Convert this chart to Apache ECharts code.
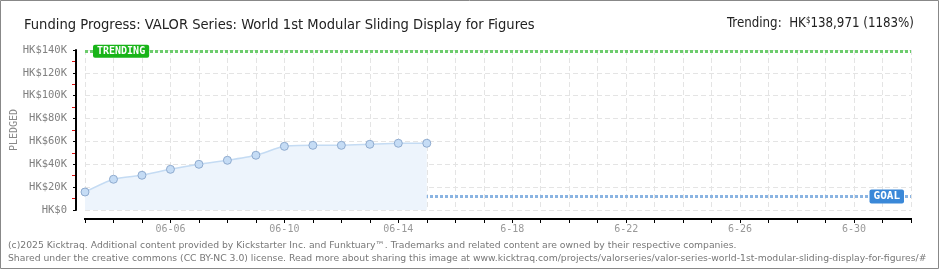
<!DOCTYPE html>
<html><head><meta charset="utf-8">
<script src="https://cdn.jsdelivr.net/npm/echarts@6/dist/echarts.min.js"></script>
<style>html,body{margin:0;padding:0;background:#fff}#c{width:940px;height:270px}</style>
</head><body><div id="c"></div><script>
const dates = ['06-03','06-04','06-05','06-06','06-07','06-08','06-09','06-10','06-11','06-12','06-13','06-14','06-15','06-16','06-17','06-18','06-19','06-20','06-21','06-22','06-23','06-24','06-25','06-26','06-27','06-28','06-29','06-30','07-01','07-02'];
const pledged = [15750, 26900, 30400, 35600, 40000, 43500, 47900, 55700, 56600, 56600, 57500, 58400, 58400];
const xTickDates = ['06-06','06-10','06-14','06-18','06-22','06-26','06-30'];
const xTickLabels = ['06-06','06-10','06-14','6-18','6-22','6-26','6-30'];
const yTickLabels = ['HK$0','HK$20K','HK$40K','HK$60K','HK$80K','HK$100K','HK$120K','HK$140K'];
const trending = 138971;
const goal = 11750;
const titleText = 'Funding Progress: VALOR Series: World 1st Modular Sliding Display for Figures';
const footer1 = '(c)2025 Kicktraq. Additional content provided by Kickstarter Inc. and Funktuary\u2122. Trademarks and related content are owned by their respective companies.';
const footer2 = 'Shared under the creative commons (CC BY-NC 3.0) license. Read more about sharing this image at www.kicktraq.com/projects/valorseries/valor-series-world-1st-modular-sliding-display-for-figures/#';

const chart = echarts.init(document.getElementById('c'), null, {renderer:'canvas'});
const mono = 'DejaVu Sans Mono';
const cond = "'DejaVu Sans Condensed', 'Liberation Sans Narrow', Roboto, sans-serif";
const gridDash = {color:'#e4e4e4', width:1, type:[5,3]};
const axisCol = '#000';
const xFmt = v => { const k = xTickDates.indexOf(v); return k >= 0 ? xTickLabels[k] : ''; };

chart.setOption({
  animation:false,
  backgroundColor:'#fff',
  title:[
    {text:titleText, left:19, top:13, textStyle:{fontFamily:cond, fontSize:14.6, fontWeight:'normal', color:'#222'}},
    {text:'Trending:  HK{s|$}138,971 (1183%)', right:21, top:12, textStyle:{fontFamily:cond, fontSize:13.2, fontWeight:'normal', color:'#222',
      rich:{s:{fontSize:8, verticalAlign:'top', lineHeight:10, fontFamily:cond, color:'#222'}}}}
  ],
  grid:{left:85, right:29, top:50, bottom:60, containLabel:false, outerBoundsMode:'none'},
  xAxis:[
    {type:'category', data:dates, boundaryGap:false, offset:9, position:'bottom',
     axisLine:{show:true, onZero:false, lineStyle:{color:axisCol, width:2}},
     axisTick:{show:true, length:4, interval:0, lineStyle:{color:axisCol, width:1}},
     axisLabel:{interval:0, formatter:xFmt, margin:5, fontFamily:mono, fontSize:10, color:'#999'},
     splitLine:{show:true, interval:0, lineStyle:gridDash}}
  ],
  yAxis:[
    {type:'value', min:0, max:140000, interval:20000, offset:9, position:'left',
     name:'PLEDGED', nameLocation:'middle', nameGap:57, nameRotate:90, nameMoveOverlap:false,
     nameTextStyle:{fontFamily:mono, fontSize:10, color:'#888'},
     axisLine:{show:true, onZero:false, lineStyle:{color:axisCol, width:2}},
     axisTick:{show:true, length:3, lineStyle:{color:axisCol, width:1}},
     minorTick:{show:true, splitNumber:2, length:4, lineStyle:{color:'#e01010', width:1}},
     axisLabel:{formatter:(v,i)=>yTickLabels[i], margin:9, fontFamily:mono, fontSize:10.5, color:'#808080'},
     splitLine:{show:true, lineStyle:gridDash}}
  ],
  series:[
    {type:'line', data:pledged, smooth:0.2,
     symbol:'circle', symbolSize:8, z:5,
     lineStyle:{color:'#c4dbf3', width:1.5},
     itemStyle:{color:'#c5dcf5', borderColor:'#8fabcf', borderWidth:1},
     areaStyle:{color:'#edf4fc', opacity:1},
     markLine:{silent:true, symbol:['none','none'], animation:false,
       data:[
         {yAxis:trending, lineStyle:{color:'#6ccc6c', width:3, type:[3,2]},
          label:{show:true, position:'insideStart', distance:8, formatter:'TRENDING', backgroundColor:'#18b418', color:'#fff',
                 padding:[2,4,1,4], borderRadius:2, fontFamily:mono, fontWeight:'bold', fontSize:10}},
         {yAxis:goal, lineStyle:{color:'#8ab4e2', width:3, type:[3,2]},
          label:{show:true, position:'insideEnd', distance:7, formatter:'GOAL', backgroundColor:'#3a88d8', color:'#fff',
                 padding:[2,4,1,4], borderRadius:2, fontFamily:mono, fontWeight:'bold', fontSize:11}}
       ]}}
  ],
  graphic:[
    {type:'rect', shape:{x:0.5, y:0.5, width:938, height:268}, style:{fill:'none', stroke:'#888', lineWidth:1}, silent:true, z:-1},
    {type:'text', left:8, top:241, style:{text:footer1, font:'9.25px "DejaVu Sans"', fill:'#777'}},
    {type:'text', left:8, top:254, style:{text:footer2, font:'9.25px "DejaVu Sans"', fill:'#777'}}
  ]
});

const p0 = chart.convertToPixel({gridIndex:0}, [dates[0], 0]);
const p1 = chart.convertToPixel({gridIndex:0}, [dates[dates.length-1], 140000]);
const ax = p0[0] - 9, ay = p0[1] + 9;
chart.setOption({graphic:[
  {type:'rect', shape:{x:0.5, y:0.5, width:938, height:268}, style:{fill:'none', stroke:'#888', lineWidth:1}, silent:true, z:-1},
  {type:'text', left:8, top:241, style:{text:footer1, font:'9.25px "DejaVu Sans"', fill:'#777'}},
  {type:'text', left:8, top:254, style:{text:footer2, font:'9.25px "DejaVu Sans"', fill:'#777'}},
  {type:'line', shape:{x1:ax, y1:p1[1], x2:ax, y2:p0[1]}, style:{stroke:'#000', lineWidth:2}, silent:true, z:10},
  {type:'line', shape:{x1:p0[0]-1, y1:ay, x2:p1[0]+1, y2:ay}, style:{stroke:'#000', lineWidth:2}, silent:true, z:10}
]}, {replaceMerge:['graphic']});
</script></body></html>
